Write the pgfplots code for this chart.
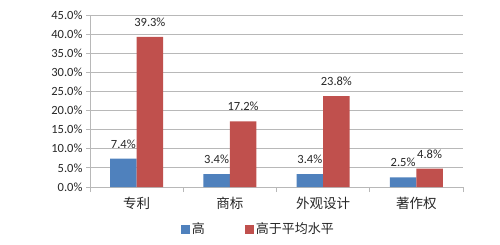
\documentclass[border=0pt]{standalone}
\usepackage{pgfplots}
\pgfplotsset{compat=1.18}
\usepackage{fontspec}
\setmainfont{Carlito}
\newfontfamily\cjk{Noto Sans CJK SC}
\definecolor{barblue}{HTML}{4F81BD}
\definecolor{barred}{HTML}{C0504D}
\definecolor{gridgray}{HTML}{B8B8B8}
\definecolor{txt}{HTML}{262626}
\begin{document}
\begin{tikzpicture}
\useasboundingbox (0,0) rectangle (500pt,244pt);
\begin{axis}[
  at={(90pt,57pt)}, anchor=south west,
  scale only axis, width=373pt, height=172pt,
  ybar=0pt, bar width=26.5pt,
  xmin=-0.5, xmax=3.5, ymin=0, ymax=45,
  ytick={0,5,...,45},
  xtick={0,1,2,3},
  xticklabels={专利,商标,外观设计,著作权},
  x tick label style={font=\cjk\fontsize{13.5}{15}\selectfont, text=txt, yshift=-3pt},
  major x tick style={draw=none},
  extra x ticks={-0.5,0.5,1.5,2.5,3.5},
  extra x tick labels={},
  extra x tick style={grid=none, major tick length=5pt, tick align=outside,
    major x tick style={draw=gridgray, line width=0.8pt}},
  axis x line*=bottom, axis y line*=left,
  axis line style={draw=gridgray, line width=0.8pt, -},
  y tick style={draw=gridgray, line width=0.8pt},
  major tick length=4pt, tick align=outside,
  ymajorgrids, major grid style={draw=gridgray, line width=0.8pt},
  yticklabel={\pgfmathprintnumber[fixed,fixed zerofill,precision=1]{\tick}\%},
  /pgf/number format/assume math mode=true,
  y tick label style={font=\fontsize{12.5}{15}\selectfont, text=txt},
  nodes near coords={\pgfmathprintnumber[fixed,fixed zerofill,precision=1]{\pgfplotspointmeta}\%},
  every node near coord/.append style={font=\fontsize{12.5}{15}\selectfont, text=txt, yshift=7pt},
  clip=false,
  legend columns=2,
  legend style={draw=none, fill=none, at={(0.235,-0.245)}, anchor=west,
    font=\cjk\fontsize{13}{15}\selectfont, text=txt,
    /tikz/every even column/.append style={column sep=38pt}},
  legend image code/.code={\fill[#1] (0pt,-4.5pt) rectangle (9pt,4.5pt);},
]
\addplot[fill=barblue, draw=none] coordinates {(0,7.4) (1,3.4) (2,3.4) (3,2.5)};
\addplot[fill=barred, draw=none] coordinates {(0,39.3) (1,17.2) (2,23.8) (3,4.8)};
\legend{高,高于平均水平}
\end{axis}
\end{tikzpicture}
\end{document}
